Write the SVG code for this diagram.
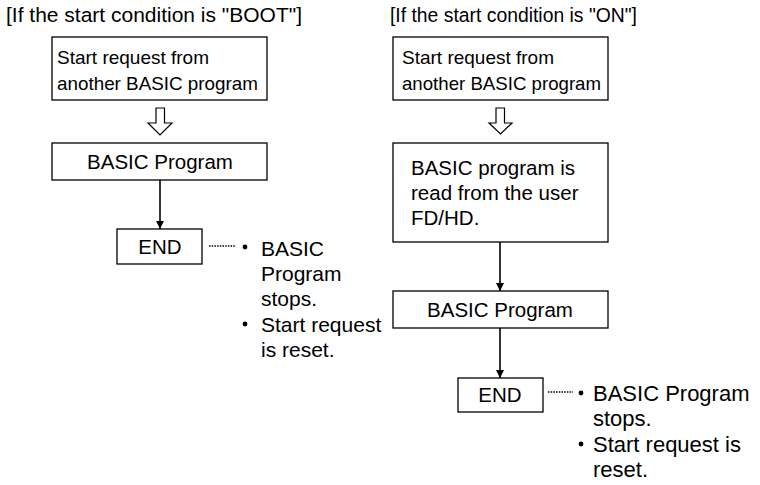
<svg xmlns="http://www.w3.org/2000/svg" width="760" height="485" viewBox="0 0 760 485">
<style>
text{font-family:"Liberation Sans",Arial,sans-serif;font-size:20.5px;fill:#000}
.sm{font-size:19px}
.n1{font-size:21px}
.n2{font-size:22px}
.box{fill:#fff;stroke:#000;stroke-width:1.3}
.hollow{fill:#fff;stroke:#000;stroke-width:1.2;stroke-linejoin:miter}
.conn{stroke:#000;stroke-width:1.6;fill:none}
.dot{stroke:#000;stroke-width:1.5;stroke-dasharray:1.5 1.2;fill:none}
.c{text-anchor:middle}
</style>
<defs>
<marker id="ah" viewBox="0 0 10 10" refX="10" refY="5" markerWidth="8" markerHeight="8" markerUnits="userSpaceOnUse" orient="auto">
<path d="M0,0 L10,5 L0,10 Z" fill="#000"/>
</marker>
</defs>
<text x="6" y="22" textLength="296" lengthAdjust="spacingAndGlyphs">[If the start condition is "BOOT"]</text>
<text x="390" y="22" textLength="247" lengthAdjust="spacingAndGlyphs">[If the start condition is "ON"]</text>

<g id="connectors">
<path class="hollow" d="M156,108 H164.5 V123 H172 L160,135 L148,123 H156 Z"/>
<path class="hollow" d="M496,108 H504.5 V123 H512 L500.5,134 L489,123 H496 Z"/>
<line class="conn" x1="160" y1="180" x2="160" y2="229" marker-end="url(#ah)"/>
<line class="conn" x1="500" y1="242" x2="500" y2="291" marker-end="url(#ah)"/>
<line class="conn" x1="500" y1="328" x2="500" y2="378" marker-end="url(#ah)"/>
<line class="dot" x1="209" y1="246" x2="236" y2="246"/>
<line class="dot" x1="548" y1="392" x2="573" y2="392"/>
</g>

<g id="boot-start">
<rect class="box" x="52" y="37" width="215" height="63"/>
<text class="sm" x="57" y="64" textLength="152" lengthAdjust="spacingAndGlyphs">Start request from</text>
<text class="sm" x="57" y="90" textLength="201" lengthAdjust="spacingAndGlyphs">another BASIC program</text>
</g>
<g id="boot-program">
<rect class="box" x="52" y="143" width="215" height="37"/>
<text class="c" x="160" y="169">BASIC Program</text>
</g>
<g id="boot-end">
<rect class="box" x="117" y="229" width="85" height="35"/>
<text class="c" x="160" y="254">END</text>
</g>
<g id="boot-note">
<circle cx="245" cy="247" r="2.4"/>
<text class="n1" x="261" y="256">BASIC</text>
<text class="n1" x="261" y="281">Program</text>
<text class="n1" x="261" y="306">stops.</text>
<circle cx="245" cy="324" r="2.4"/>
<text class="n1" x="261" y="332">Start request</text>
<text class="n1" x="261" y="357">is reset.</text>
</g>

<g id="on-start">
<rect class="box" x="393" y="37" width="215" height="63"/>
<text class="sm" x="402" y="64" textLength="152" lengthAdjust="spacingAndGlyphs">Start request from</text>
<text class="sm" x="402" y="90" textLength="199" lengthAdjust="spacingAndGlyphs">another BASIC program</text>
</g>
<g id="on-read">
<rect class="box" x="393" y="143" width="215" height="99"/>
<text x="411" y="175">BASIC program is</text>
<text x="411" y="200">read from the user</text>
<text x="411" y="225">FD/HD.</text>
</g>
<g id="on-program">
<rect class="box" x="393" y="291" width="215" height="37"/>
<text class="c" x="500" y="317">BASIC Program</text>
</g>
<g id="on-end">
<rect class="box" x="458" y="378" width="85" height="34"/>
<text class="c" x="500" y="402">END</text>
</g>
<g id="on-note">
<circle cx="581" cy="393" r="2.4"/>
<text class="n2" x="593" y="401">BASIC Program</text>
<text class="n2" x="593" y="426">stops.</text>
<circle cx="581" cy="444" r="2.4"/>
<text class="n2" x="593" y="452">Start request is</text>
<text class="n2" x="593" y="477">reset.</text>
</g>
</svg>
